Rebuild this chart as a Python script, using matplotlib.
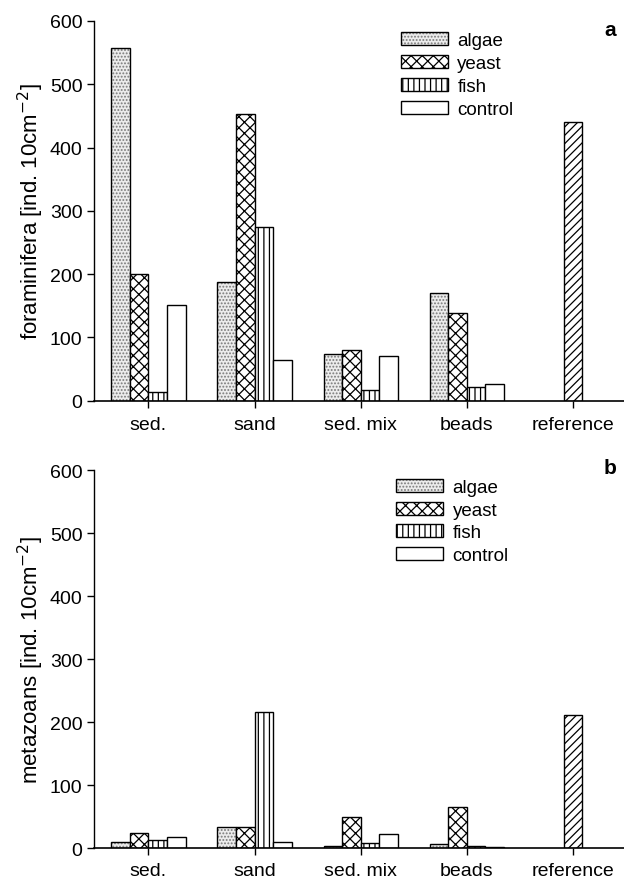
import numpy as np
import matplotlib
matplotlib.use("Agg")
import matplotlib.pyplot as plt
from matplotlib.patches import Patch
from matplotlib.legend_handler import HandlerTuple

plt.rcParams['font.family'] = ['Liberation Sans', 'DejaVu Sans']
plt.rcParams['hatch.linewidth'] = 0.9

# data
categories = ['sed.', 'sand', 'sed. mix', 'beads', 'reference']
treatments = ['algae', 'yeast', 'fish', 'control']

fora_algae = [557, 188, 74, 170]
fora_yeast = [200, 453, 80, 139]
fora_fish = [14, 274, 17, 21]
fora_control = [151, 64, 70, 26]
fora_reference = 440

meta_algae = [10, 33, 3, 6]
meta_yeast = [24, 33, 50, 66]
meta_fish = [13, 216, 8, 3]
meta_control = [17, 9, 23, 1]
meta_reference = 212

w = 0.175
x = np.arange(4)


def panel(ax, algae, yeast, fish, control, ref, ylab, letter, letter_y,
          leg_xy, xpad):
    # algae: grey stipple, outline drawn separately so dots stay grey
    ax.bar(x - 1.5 * w, algae, w, color='#ececec', edgecolor='#7a7a7a',
           hatch='.....', linewidth=0)
    ax.bar(x - 1.5 * w, algae, w, fill=False, edgecolor='black', linewidth=1)
    ax.bar(x - 0.5 * w, yeast, w, color='white', edgecolor='black',
           hatch='xxx', linewidth=1)
    ax.bar(x + 0.5 * w, fish, w, color='white', edgecolor='black',
           hatch='|||', linewidth=1)
    ax.bar(x + 1.5 * w, control, w, color='white', edgecolor='black',
           linewidth=1)
    ax.bar([4], [ref], w, color='white', edgecolor='black', hatch='////',
           linewidth=1)

    ax.set_xlim(-0.51, 4.48)
    ax.set_ylim(0, 600)
    ax.set_yticks(range(0, 601, 100))
    ax.set_xticks(range(5))
    ax.set_xticklabels(categories)
    ax.tick_params(axis='both', labelsize=14, direction='out', length=5,
                   width=1)
    ax.tick_params(axis='x', pad=xpad)
    for s in ['top', 'right']:
        ax.spines[s].set_visible(False)
    ax.spines['left'].set_linewidth(1)
    ax.spines['bottom'].set_linewidth(1.2)
    ax.set_ylabel(ylab, fontsize=16, labelpad=3)

    h_algae = (Patch(facecolor='#ececec', edgecolor='#7a7a7a', hatch='.....',
                     linewidth=0),
               Patch(fill=False, edgecolor='black', linewidth=1))
    h_yeast = Patch(facecolor='white', edgecolor='black', hatch='xxx')
    h_fish = Patch(facecolor='white', edgecolor='black', hatch='|||')
    h_control = Patch(facecolor='white', edgecolor='black')
    ax.legend([h_algae, h_yeast, h_fish, h_control], treatments,
              handler_map={tuple: HandlerTuple(ndivide=1, pad=0)},
              loc='upper left', bbox_to_anchor=leg_xy, frameon=False,
              fontsize=13.5, handlelength=2.5, handleheight=0.7,
              handletextpad=0.5, labelspacing=0.3, borderaxespad=0)
    ax.text(0.985, letter_y, letter, transform=ax.transAxes, ha='right',
            va='center', fontsize=15, fontweight='bold')


fig = plt.figure(figsize=(6.24, 8.79), dpi=100)
ax1 = fig.add_axes([0.151, 0.543, 0.849, 0.432])
ax2 = fig.add_axes([0.151, 0.034, 0.849, 0.43])

panel(ax1, fora_algae, fora_yeast, fora_fish, fora_control, fora_reference,
      'foraminifera [ind. 10cm$^{-2}$]', 'a', 0.978, (0.565, 0.99), 6)
panel(ax2, meta_algae, meta_yeast, meta_fish, meta_control, meta_reference,
      'metazoans [ind. 10cm$^{-2}$]', 'b', 1.006, (0.556, 0.997), 5)

fig.savefig('out.png', dpi=100)
